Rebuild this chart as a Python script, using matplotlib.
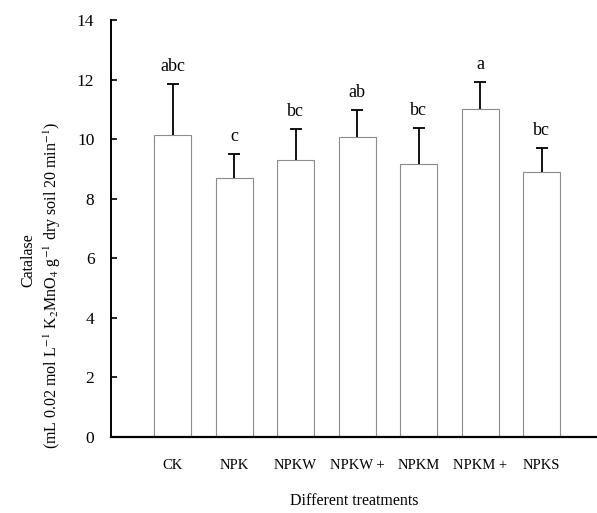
import matplotlib
matplotlib.use("Agg")
import matplotlib.pyplot as plt

categories = ["CK", "NPK", "NPKW", "NPKW +", "NPKM", "NPKM +", "NPKS"]
means = [10.13, 8.70, 9.30, 10.07, 9.17, 11.0, 8.90]
errors = [1.72, 0.80, 1.03, 0.92, 1.20, 0.92, 0.80]
letters = ["abc", "c", "bc", "ab", "bc", "a", "bc"]
yticks = [0, 2, 4, 6, 8, 10, 12, 14]

plt.rcParams['font.family'] = ['Liberation Serif', 'DejaVu Serif']
plt.rcParams['mathtext.fontset'] = 'stix'

fig = plt.figure(figsize=(5.97, 5.13), dpi=100)
ax = fig.add_axes([0.186, 0.148, 0.814, 0.813])

x = list(range(1, len(categories) + 1))
tops = [m + e for m, e in zip(means, errors)]
ax.bar(x, means, width=0.6, color='white', edgecolor='#8a8a8a', linewidth=0.8, zorder=2)
ax.vlines(x, means, tops, colors='black', linewidth=1.3, zorder=3)
ax.scatter(x, tops, marker='_', s=70, color='black', linewidths=1.3, zorder=3)
for xi, t, l in zip(x, tops, letters):
    ax.text(xi, t + 0.3, l, ha='center', va='bottom', fontsize=13)

ax.set_xlim(0, 7.9)
ax.set_ylim(0, 14)
ax.set_yticks(yticks)
ax.set_xticks(x)
ax.set_xticklabels(categories, fontsize=10.5)
ax.tick_params(axis='y', direction='in', length=4, width=1.2, labelsize=12.5, pad=12)
ax.tick_params(axis='x', direction='in', length=4, width=1.2, pad=16)
for s in ['top', 'right']:
    ax.spines[s].set_visible(False)
ax.spines['left'].set_linewidth(1.4)
ax.spines['bottom'].set_linewidth(1.6)

ax.set_xlabel("Different treatments", fontsize=11.5, labelpad=15)
fig.text(0.047, 0.493, "Catalase", rotation=90, ha='center', va='center', fontsize=11.5)
fig.text(0.087, 0.444, r"(mL 0.02 mol L$^{-1}$ K$_2$MnO$_4$ g$^{-1}$ dry soil 20 min$^{-1}$)",
         rotation=90, ha='center', va='center', fontsize=11.5)

fig.savefig("out.png", dpi=100)
